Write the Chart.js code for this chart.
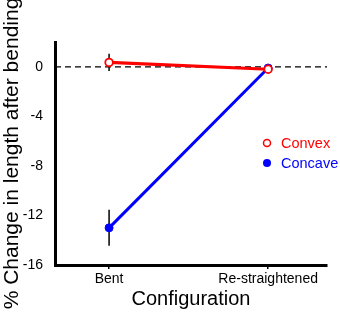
<!DOCTYPE html>
<html>
<head>
<meta charset="utf-8">
<script src="https://cdn.jsdelivr.net/npm/chart.js@4.4.0/dist/chart.umd.min.js"></script>
<style>
  html, body { margin: 0; padding: 0; background: #fff; }
  #wrap { width: 340px; height: 315px; }
</style>
</head>
<body>
<div id="wrap"><canvas id="chart" width="340" height="315"></canvas></div>
<script>
const categories = ['Bent', 'Re-straightened'];
const convexValues = [0.35, -0.2];
const convexErrors = [0.7, 0.2];
const concaveValues = [-13.0, -0.1];
const concaveErrors = [1.45, 0.2];
const yTicks = [0, -4, -8, -12, -16];

const FONT = "'Liberation Sans', Arial, sans-serif";

// dashed reference line at zero + error bars + legend
const extras = {
  id: 'extras',
  beforeDatasetsDraw(chart) {
    const ctx = chart.ctx;
    const x = chart.scales.x, y = chart.scales.y;
    const area = chart.chartArea;
    ctx.save();
    ctx.strokeStyle = '#000';
    ctx.lineWidth = 1.3;
    ctx.setLineDash([6, 4]);
    ctx.beginPath();
    ctx.moveTo(area.left, y.getPixelForValue(0));
    ctx.lineTo(area.right, y.getPixelForValue(0));
    ctx.stroke();
    ctx.setLineDash([]);
    ctx.lineWidth = 1.5;
    const bars = [[concaveValues, concaveErrors], [convexValues, convexErrors]];
    for (const [vals, errs] of bars) {
      vals.forEach((v, i) => {
        const px = x.getPixelForValue(i);
        ctx.beginPath();
        ctx.moveTo(px, y.getPixelForValue(v - errs[i]));
        ctx.lineTo(px, y.getPixelForValue(v + errs[i]));
        ctx.stroke();
      });
    }
    ctx.restore();
  },
  afterDraw(chart) {
    const ctx = chart.ctx;
    ctx.save();
    ctx.font = '14.5px ' + FONT;
    ctx.textBaseline = 'middle';
    const items = [
      { label: 'Convex', color: '#ff0000', open: true, y: 143 },
      { label: 'Concave', color: '#0000ff', open: false, y: 163 }
    ];
    for (const it of items) {
      ctx.beginPath();
      ctx.arc(267, it.y, it.open ? 3.5 : 4, 0, Math.PI * 2);
      if (it.open) {
        ctx.fillStyle = '#fff';
        ctx.fill();
        ctx.lineWidth = 1.5;
        ctx.strokeStyle = it.color;
        ctx.stroke();
      } else {
        ctx.fillStyle = it.color;
        ctx.fill();
      }
      ctx.fillStyle = it.color;
      ctx.fillText(it.label, 281, it.y + 1);
    }
    ctx.restore();
  }
};

new Chart(document.getElementById('chart'), {
  type: 'line',
  data: {
    datasets: [
      {
        label: 'Concave',
        data: concaveValues.map((v, i) => ({ x: i, y: v })),
        borderColor: '#0000ff',
        backgroundColor: '#0000ff',
        borderWidth: 3,
        pointRadius: 4,
        pointBorderWidth: 1,
        pointBorderColor: '#0000ff',
        order: 2
      },
      {
        label: 'Convex',
        data: convexValues.map((v, i) => ({ x: i, y: v })),
        borderColor: '#ff0000',
        backgroundColor: '#ffffff',
        borderWidth: 3.2,
        pointRadius: 3.8,
        pointBorderWidth: 1.8,
        pointBackgroundColor: '#ffffff',
        pointBorderColor: '#ff0000',
        order: 1
      }
    ]
  },
  options: {
    responsive: false,
    animation: false,
    layout: { padding: { top: 42, right: 13, left: 0, bottom: 0 } },
    plugins: { legend: { display: false }, tooltip: { enabled: false } },
    scales: {
      x: {
        type: 'linear',
        min: -0.34,
        max: 1.37,
        afterBuildTicks: (s) => { s.ticks = categories.map((c, i) => ({ value: i })); },
        afterFit: (s) => { s.height = 50; },
        ticks: {
          callback: (v) => categories[v],
          color: '#000',
          font: { family: FONT, size: 14 },
          padding: 2,
          maxRotation: 0
        },
        grid: { display: true, drawOnChartArea: false, drawTicks: true, tickLength: 4, color: '#000', lineWidth: 1.5 },
        border: { display: true, color: '#000', width: 3 },
        title: {
          display: true,
          text: 'Configuration',
          color: '#000',
          font: { family: FONT, size: 20 },
          padding: { top: 4 }
        }
      },
      y: {
        min: -16,
        max: 2,
        afterBuildTicks: (s) => { s.ticks = yTicks.map(v => ({ value: v })); },
        afterFit: (s) => { s.width = 55; },
        ticks: {
          color: '#000',
          font: { family: FONT, size: 14 },
          padding: 4
        },
        grid: { display: false },
        border: { display: true, color: '#000', width: 3 },
        title: {
          display: true,
          text: '% Change in length after bending',
          color: '#000',
          font: { family: FONT, size: 21 },
          padding: { top: 0, bottom: 0 }
        }
      }
    }
  },
  plugins: [extras]
});
</script>
</body>
</html>
